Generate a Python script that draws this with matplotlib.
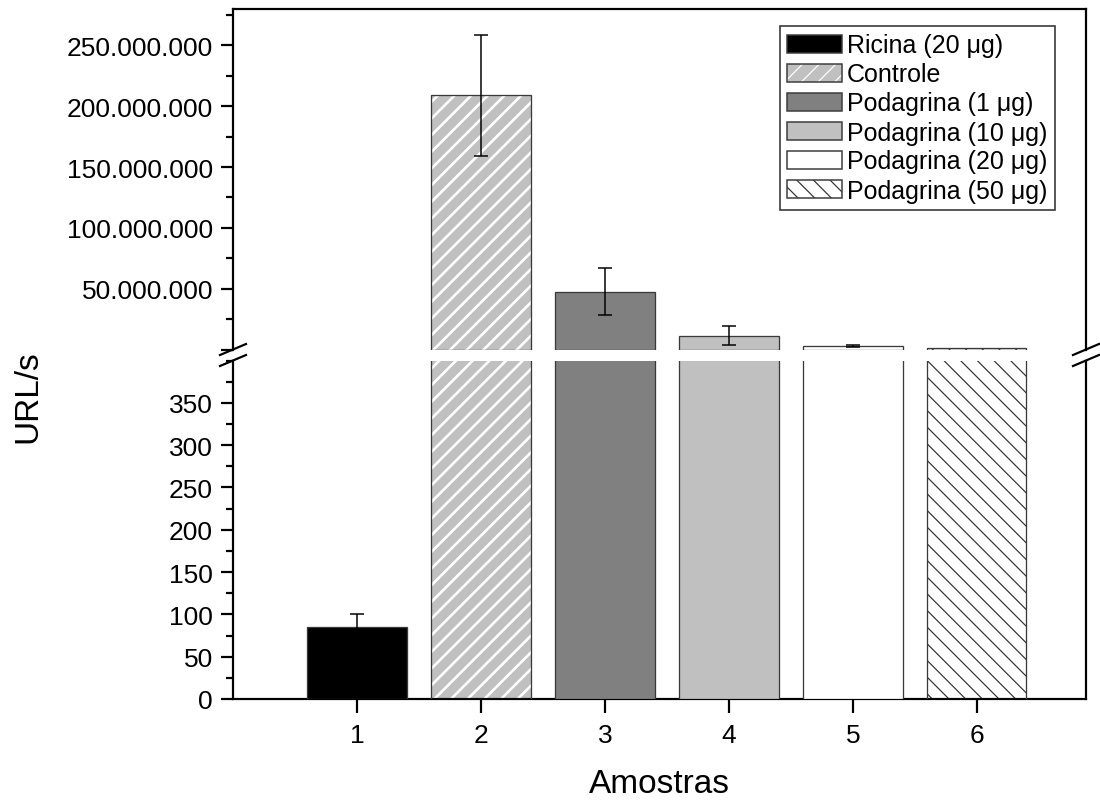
import matplotlib
matplotlib.use("Agg")
import matplotlib.pyplot as plt
from matplotlib.ticker import FuncFormatter, MultipleLocator
from matplotlib.patches import Patch
import numpy as np

plt.rcParams['font.family'] = ['Liberation Sans', 'DejaVu Sans']

categories = [1, 2, 3, 4, 5, 6]
labels = ['Ricina (20 \u03bcg)', 'Controle', 'Podagrina (1 \u03bcg)',
          'Podagrina (10 \u03bcg)', 'Podagrina (20 \u03bcg)', 'Podagrina (50 \u03bcg)']
values = [85, 209_000_000, 47_500_000, 11_500_000, 3_000_000, 1_000_000]
errors = [16, 50_000_000, 19_500_000, 7_500_000, 600_000, 0]
facecolors = ['#000000', '#c0c0c0', '#808080', '#c0c0c0', '#ffffff', '#ffffff']
hatches = [None, '//', None, None, None, '\\\\']
hatchcolors = [None, '#ffffff', None, None, None, '#333333']
hatchwidths_px = [0, 2.6, 0, 0, 0, 1.2]

W, H = 1100, 803
DPI = 100
def px(p):      # pixel length -> points
    return p * 72.0 / DPI
def fs(f):      # font size given as pt at 100 dpi -> pt at DPI
    return f * 100.0 / DPI

fig = plt.figure(figsize=(W / DPI, H / DPI), dpi=DPI)
L, R = 233 / W, 1086 / W
top_y0, brk_top, brk_bot, bot_y = 10, 350.5, 361.5, 700
ax_top = fig.add_axes([L, 1 - brk_top / H, R - L, (brk_top - top_y0) / H])
ax_bot = fig.add_axes([L, 1 - bot_y / H, R - L, (bot_y - brk_bot) / H])
ax_top.set_ylim(0, 280_000_000)
ax_bot.set_ylim(0, 400)

edge = '#3a3a3a'
for ax in (ax_top, ax_bot):
    for x, v, e, fc, h, hc, hw in zip(categories, values, errors, facecolors,
                                      hatches, hatchcolors, hatchwidths_px):
        if ax is ax_top and v < ax_bot.get_ylim()[1]:
            continue
        if h is not None:
            plt.rcParams['hatch.linewidth'] = px(hw)
            ax.bar(x, v, width=0.8, color=fc, edgecolor=hc, hatch=h, linewidth=0, zorder=2)
            ax.bar(x, v, width=0.8, fill=False, edgecolor=edge, linewidth=px(1.3), zorder=3)
        else:
            ax.bar(x, v, width=0.8, color=fc, edgecolor=edge, linewidth=px(1.3), zorder=3)
        if e > 0:
            ax.errorbar(x, v, yerr=e, fmt='none', ecolor='black', elinewidth=px(1.5),
                        capsize=px(7), capthick=px(1.5), zorder=4)
    ax.set_xlim(0, 6.88)
    for s in ax.spines.values():
        s.set_linewidth(px(2.2))

ax_top.spines['bottom'].set_visible(False)
ax_bot.spines['top'].set_visible(False)
ax_top.tick_params(axis='x', which='both', bottom=False, labelbottom=False)
ax_top.yaxis.set_major_locator(MultipleLocator(50_000_000))
ax_top.yaxis.set_minor_locator(MultipleLocator(25_000_000))
ax_top.yaxis.set_major_formatter(FuncFormatter(
    lambda v, p: '' if v <= 0 else f'{int(v):,}'.replace(',', '.')))
ax_bot.yaxis.set_major_locator(MultipleLocator(50))
ax_bot.yaxis.set_minor_locator(MultipleLocator(25))
ax_bot.set_yticks([0, 50, 100, 150, 200, 250, 300, 350])
ax_bot.set_xticks(categories)
ax_bot.set_xticklabels([str(c) for c in categories])

for ax in (ax_top, ax_bot):
    ax.tick_params(axis='y', which='major', direction='out', length=px(12), width=px(2.2),
                   labelsize=fs(19), pad=px(8), right=False)
    ax.tick_params(axis='y', which='minor', direction='out', length=px(7), width=px(2.2),
                   right=False)
ax_bot.tick_params(axis='x', which='major', direction='out', length=px(14), width=px(2.2),
                   labelsize=fs(19), pad=px(10))
ax_bot.tick_params(axis='x', which='minor', bottom=False)

fig.text((233 + 1086) / 2 / W, 1 - 785 / H, 'Amostras', fontsize=fs(24),
         ha='center', va='center')
fig.text(28 / W, 1 - 397 / H, 'URL/s', rotation=90, fontsize=fs(24),
         ha='center', va='center')

# break marks on both spines
for xc in (233, 1086):
    for yc in (brk_top, brk_bot):
        fig.add_artist(plt.Line2D([(xc - 13) / W, (xc + 13) / W],
                                  [1 - (yc + 5.5) / H, 1 - (yc - 5.5) / H],
                                  color='black', linewidth=px(2.2),
                                  transform=fig.transFigure))

# legend
handles = []
for fc, h, hc, hw in zip(facecolors, hatches, hatchcolors, hatchwidths_px):
    if h is None:
        handles.append(Patch(facecolor=fc, edgecolor=edge, linewidth=px(1.5)))
    else:
        plt.rcParams['hatch.linewidth'] = px(hw)
        p1 = Patch(facecolor=fc, edgecolor=hc, hatch=h, linewidth=0)
        p2 = Patch(fill=False, edgecolor=edge, linewidth=px(1.5))
        handles.append((p1, p2))
leg = ax_top.legend(handles, labels, loc='upper right',
                    bbox_to_anchor=(1055 / W, 1 - 27 / H), bbox_transform=fig.transFigure,
                    fontsize=fs(18), frameon=True, fancybox=False, edgecolor='black',
                    handlelength=2.2, handleheight=0.72, handletextpad=0.2,
                    labelspacing=0.2, borderpad=0.3, borderaxespad=0)
leg.get_frame().set_linewidth(px(1.6))

fig.savefig('out.png', dpi=DPI)
